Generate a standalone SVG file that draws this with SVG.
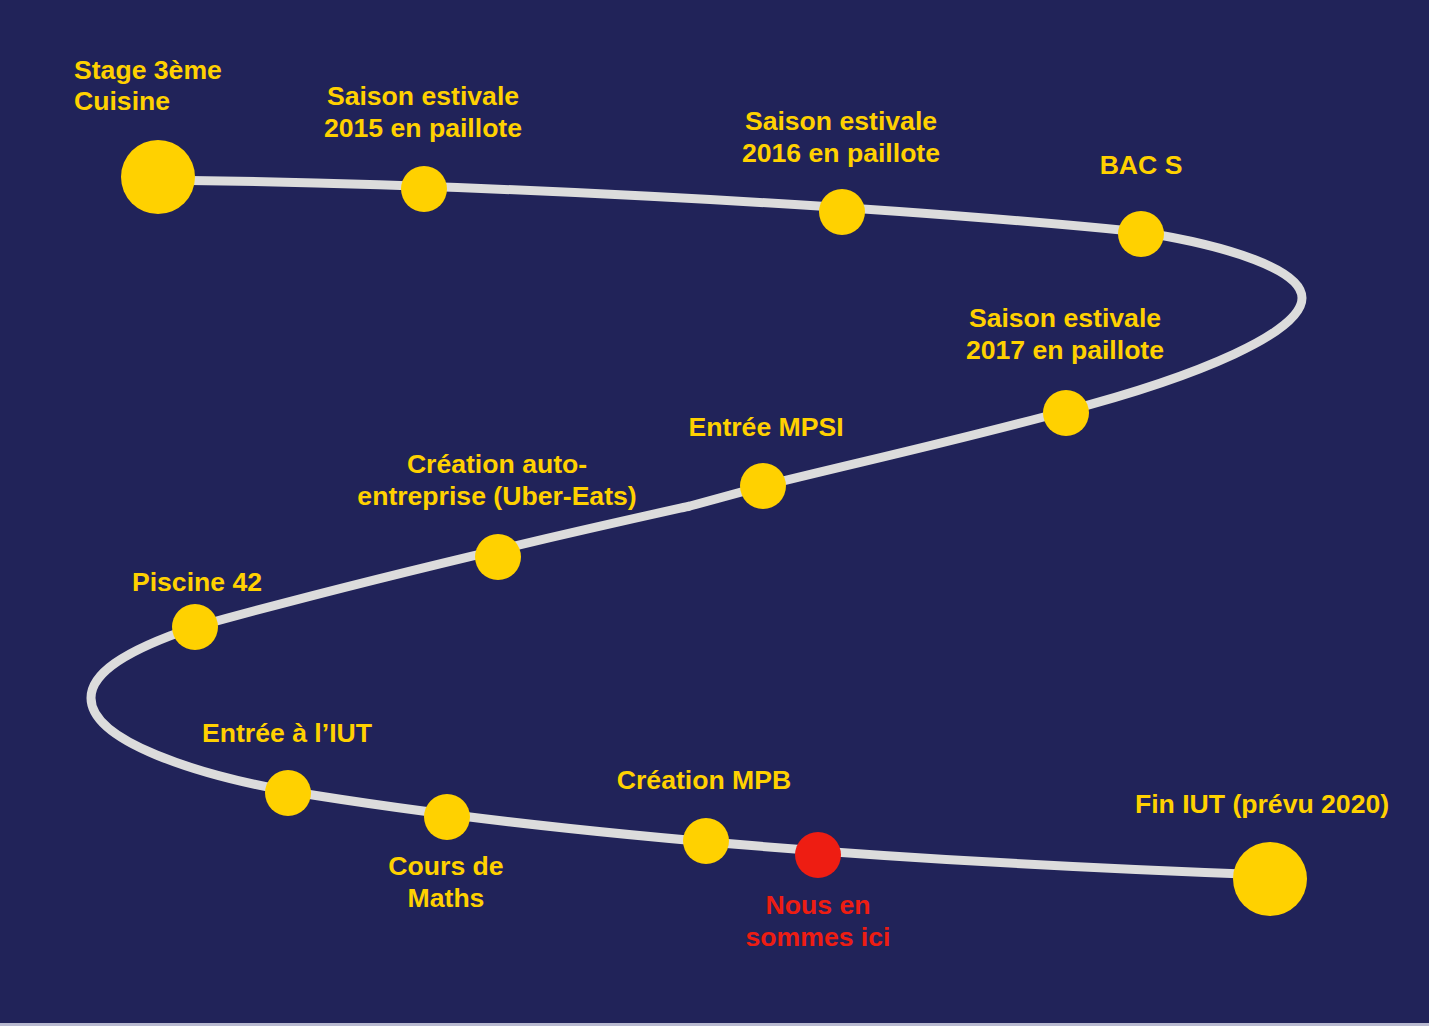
<svg xmlns="http://www.w3.org/2000/svg" width="1429" height="1026" viewBox="0 0 1429 1026">
<style>
.t{font-family:"Liberation Sans",Arial,sans-serif;font-weight:bold;font-size:26.6px;fill:#FFD100;text-anchor:middle}
.l{text-anchor:start}
.r{fill:#EE1D12}
.dot{fill:#FFD100}
.big{fill:#FFD100}
.path{fill:none;stroke:#DCDCDC;stroke-width:9;stroke-linejoin:round}
</style>
<rect width="1429" height="1026" fill="#212359"/>
<rect x="0" y="1023" width="1429" height="3" fill="#b9bad0"/>
<g id="connectors">
<path class="path" d="M158,180 C450,183 850,203 1141,232 C1230,246 1302,270 1302,298 C1302,332 1200,376 1066,411 C960,440 860,462 763,486 L690,506 C600,526 400,570 195,627 C120,652 91,675 91,698 C91,742 200,775 288,791 C500,826 800,858 1270,875"/>
</g>
<g id="n-stage"><circle class="big" cx="158" cy="177" r="37"/><text class="t l" x="74" y="79">Stage 3ème</text><text class="t l" x="74" y="110">Cuisine</text></g>
<g id="n-2015"><circle class="dot" cx="424" cy="189" r="23"/><text class="t" x="423" y="105">Saison estivale</text><text class="t" x="423" y="137">2015 en paillote</text></g>
<g id="n-2016"><circle class="dot" cx="842" cy="212" r="23"/><text class="t" x="841" y="130">Saison estivale</text><text class="t" x="841" y="162">2016 en paillote</text></g>
<g id="n-bac"><circle class="dot" cx="1141" cy="234" r="23"/><text class="t" x="1141" y="174">BAC S</text></g>
<g id="n-2017"><circle class="dot" cx="1066" cy="413" r="23"/><text class="t" x="1065" y="327">Saison estivale</text><text class="t" x="1065" y="359">2017 en paillote</text></g>
<g id="n-mpsi"><circle class="dot" cx="763" cy="486" r="23"/><text class="t" x="766" y="436">Entrée MPSI</text></g>
<g id="n-uber"><circle class="dot" cx="498" cy="557" r="23"/><text class="t" x="497" y="473">Création auto-</text><text class="t" x="497" y="505">entreprise (Uber-Eats)</text></g>
<g id="n-piscine"><circle class="dot" cx="195" cy="627" r="23"/><text class="t" x="197" y="591">Piscine 42</text></g>
<g id="n-iut"><circle class="dot" cx="288" cy="793" r="23"/><text class="t" x="287" y="742">Entrée à l’IUT</text></g>
<g id="n-maths"><circle class="dot" cx="447" cy="817" r="23"/><text class="t" x="446" y="875">Cours de</text><text class="t" x="446" y="907">Maths</text></g>
<g id="n-mpb"><circle class="dot" cx="706" cy="841" r="23"/><text class="t" x="704" y="789">Création MPB</text></g>
<g id="n-ici"><circle cx="818" cy="855" r="23" fill="#EE1D12"/><text class="t r" x="818" y="914">Nous en</text><text class="t r" x="818" y="946">sommes ici</text></g>
<g id="n-fin"><circle class="big" cx="1270" cy="879" r="37"/><text class="t" x="1262" y="813">Fin IUT (prévu 2020)</text></g>
</svg>
